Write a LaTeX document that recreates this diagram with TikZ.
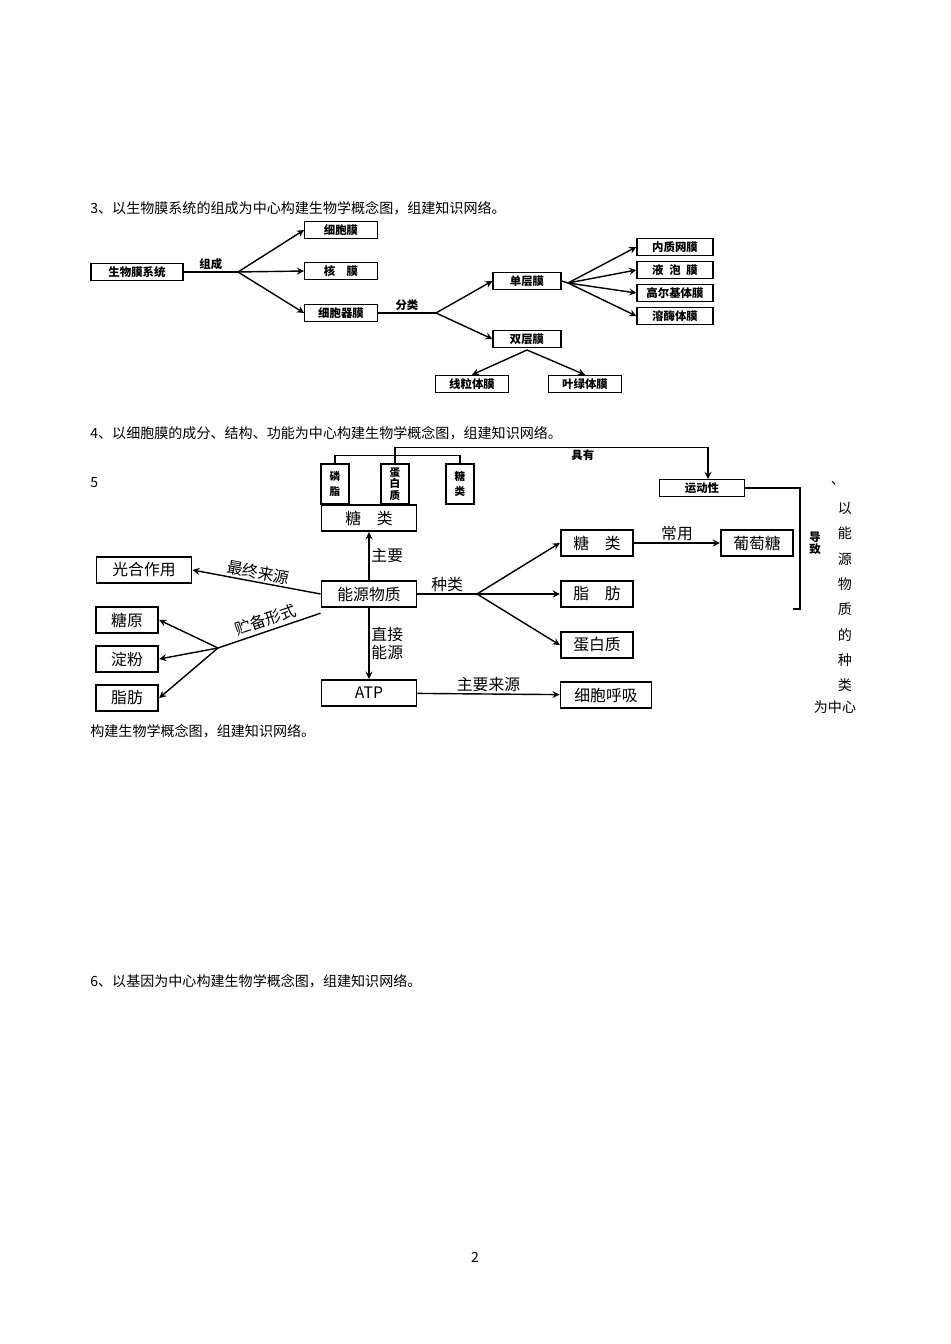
\documentclass[tikz,border=0pt]{standalone}
\usepackage{fontspec}
\setmainfont{Noto Sans CJK SC}
\usetikzlibrary{arrows, positioning}
\begin{document}
\begin{tikzpicture}[
    x=0.02cm, y=-0.02cm,
    >=stealth,
    % Styles
    para/.style={anchor=west, font=\fontsize{8}{9}\selectfont, inner sep=0pt},
    smallbox/.style={rectangle, draw, thick, minimum width=1.45cm, minimum height=0.34cm, inner sep=1pt, font=\fontsize{6.5}{7}\selectfont\bfseries},
    bigbox/.style={rectangle, draw, line width=1.1pt, minimum width=1.9cm, minimum height=0.53cm, inner sep=1pt, font=\fontsize{9}{10}\selectfont},
    sidebox/.style={bigbox, minimum width=1.25cm},
    tallbox/.style={rectangle, draw, line width=1pt, minimum width=0.56cm, minimum height=0.8cm, inner sep=1pt, align=center, font=\fontsize{6}{6.5}\selectfont\bfseries},
    lbl/.style={font=\fontsize{6.5}{7}\selectfont\bfseries, inner sep=1pt},
    biglbl/.style={font=\fontsize{9}{10}\selectfont, inner sep=1pt},
    arrow/.style={thick, ->},
    side/.style={font=\fontsize{8}{9}\selectfont, inner sep=0pt}
]
\useasboundingbox (0,0) rectangle (950,1344);

% --- TEXT LINES ---
\node (t3) [para] at (90,208) {3、以生物膜系统的组成为中心构建生物学概念图，组建知识网络。};
\node (t4) [para] at (90,433) {4、以细胞膜的成分、结构、功能为中心构建生物学概念图，组建知识网络。};
\node (t5) [para] at (90,483) {5};
\node (t5b) [para] at (90,731) {构建生物学概念图，组建知识网络。};
\node (t6) [para] at (90,981) {6、以基因为中心构建生物学概念图，组建知识网络。};
\node (pg) [side] at (475,1257) {2};
\node (c0) [side] at (838,483) {、};
\foreach \ch [count=\i] in {以,能,源,物,质,的,种,类}
    \node [side] at (845,483+25.3*\i) {\ch};
\node (c9) [side] at (835,707) {为中心};

% --- DIAGRAM 3 ---
\node (bio) [smallbox, minimum width=1.84cm] at (137,272) {生物膜系统};
\node (cell) [smallbox] at (341,230) {细胞膜};
\node (nuc) [smallbox] at (341,271) {核\quad 膜};
\node (org) [smallbox] at (341,313) {细胞器膜};
\node (single) [smallbox, minimum width=1.36cm] at (527,281) {单层膜};
\node (double) [smallbox, minimum width=1.36cm] at (527,339) {双层膜};
\node (er) [smallbox, minimum width=1.52cm] at (675,247) {内质网膜};
\node (vac) [smallbox, minimum width=1.52cm] at (675,270) {液\enspace 泡\enspace 膜};
\node (gol) [smallbox, minimum width=1.52cm] at (675,293) {高尔基体膜};
\node (lys) [smallbox, minimum width=1.52cm] at (675,316) {溶酶体膜};
\node (mito) [smallbox] at (472,384) {线粒体膜};
\node (chlo) [smallbox] at (585,384) {叶绿体膜};
\coordinate (b1) at (238,272);
\coordinate (b2) at (436,313);
\coordinate (b3) at (568,283);
\coordinate (b4) at (527,350);

\draw [thick] (bio) -- node[lbl, above] {组成} (b1);
\draw [arrow] (b1) -- (cell.west);
\draw [arrow] (b1) -- (nuc.west);
\draw [arrow] (b1) -- (org.west);
\draw [thick] (org) -- node[lbl, above] {分类} (b2);
\draw [arrow] (b2) -- (single.west);
\draw [arrow] (b2) -- (double.west);
\draw [thick] (single.east) -- (b3);
\foreach \n in {er, vac, gol, lys}
    \draw [arrow] (b3) -- (\n.west);
\draw [arrow] (b4) -- (mito.north);
\draw [arrow] (b4) -- (chlo.north);

% --- DIAGRAM 5 ---
\node (sugar) [bigbox] at (369,518) {糖\quad 类};
\node (pl) [tallbox, anchor=south] at (335,505) {磷\\[2pt]脂};
\node (prot) [tallbox, anchor=south] at (395,505) {蛋\\白\\质};
\node (gly) [tallbox, anchor=south] at (460,505) {糖\\[2pt]类};
\node (motion) [smallbox, minimum width=1.7cm] at (702,488) {运动性};
\node (energy) [bigbox] at (369,594) {能源物质};
\node (atp) [bigbox] at (369,693) {ATP};
\node (photo) [bigbox] at (144,570) {光合作用};
\node (glyc) [sidebox] at (127,620) {糖原};
\node (starch) [sidebox] at (127,659) {淀粉};
\node (fat1) [sidebox] at (127,698) {脂肪};
\node (sug2) [sidebox, minimum width=1.45cm] at (597,543) {糖\quad 类};
\node (fat2) [sidebox, minimum width=1.45cm] at (597,594) {脂\quad 肪};
\node (prot2) [sidebox, minimum width=1.45cm] at (597,645) {蛋白质};
\node (gluc) [sidebox, minimum width=1.45cm] at (757,543) {葡萄糖};
\node (resp) [bigbox, minimum width=1.82cm] at (606,695) {细胞呼吸};
\coordinate (s1) at (218,648);
\coordinate (s2) at (477,594);
\coordinate (mtop) at (708,479);
\coordinate (tick) at (793,609);

% bracket over the components
\draw [thick] (pl.north) -- ++(0,-8) -| (gly.north);
\draw [arrow] (prot.north) -- ++(0,-16) -| node[lbl, pos=0.3, below] {具有} (mtop);
\draw [thick] (motion.east) -| (800,609) -- (tick);
\node (lead) [lbl, align=center] at (815,543) {导\\致};

\draw [arrow] (energy) -- node[biglbl, right] {主要} (sugar);
\draw [arrow] (energy.west) -- node[biglbl, above, sloped] {最终来源} (photo.east);
\draw [thick] ([yshift=-0.1cm]energy.south west) -- node[biglbl, above=1pt, sloped] {贮备形式} (s1);
\draw [arrow] (s1) -- (glyc.east);
\draw [arrow] (s1) -- (starch.east);
\draw [arrow] (s1) -- (fat1.east);
\draw [thick] (energy) -- node[biglbl, above] {种类} (s2);
\draw [arrow] (s2) -- (sug2.west);
\draw [arrow] (s2) -- (fat2.west);
\draw [arrow] (s2) -- (prot2.west);
\draw [arrow] (sug2) -- node[biglbl, above] {常用} (gluc);
\draw [arrow] (energy) -- node[biglbl, right, align=center] {直接\\能源} (atp);
\draw [arrow] (atp) -- node[biglbl, above] {主要来源} (resp);
\end{tikzpicture}
\end{document}
